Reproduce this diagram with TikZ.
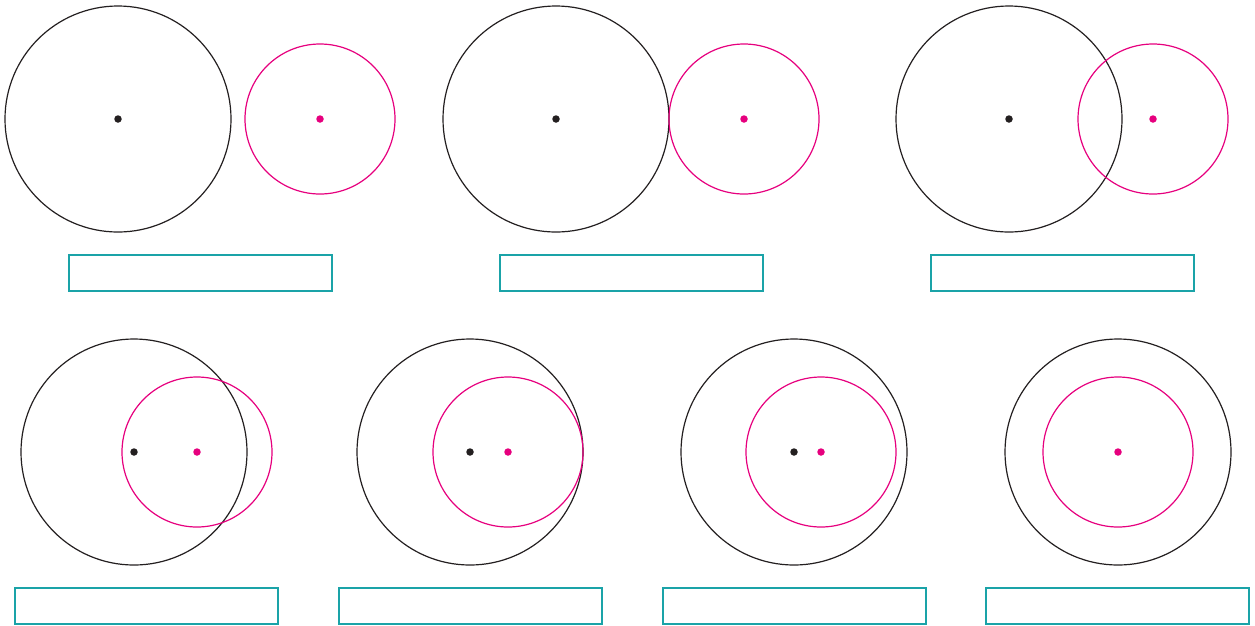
\documentclass[tikz,border=0pt]{standalone}
\definecolor{mag}{HTML}{E6007E}
\definecolor{teal2}{HTML}{1AA3A8}
\definecolor{ink}{HTML}{231F20}
\begin{document}
\begin{tikzpicture}[x=1pt,y=-1pt,
  bigc/.style={draw=ink,line width=1.2pt,circle,minimum size=226pt,inner sep=0pt},
  smallc/.style={draw=mag,line width=1.2pt,circle,minimum size=150pt,inner sep=0pt},
  bdot/.style={fill=ink,circle,minimum size=7.5pt,inner sep=0pt},
  mdot/.style={fill=mag,circle,minimum size=7.5pt,inner sep=0pt},
  labelbox/.style={draw=teal2,line width=1.4pt,minimum width=263pt,minimum height=36pt,inner sep=0pt}]
\useasboundingbox (0,0) rectangle (1255,625);
% top row
\node[bigc] (b1) at (118,119) {};
\node[bdot] (bd1) at (118,119) {};
\node[smallc] (s1) at (320,119) {};
\node[mdot] (md1) at (320,119) {};
\node[labelbox] (l1) at (200.5,273) {};
\node[bigc] (b2) at (556,119) {};
\node[bdot] (bd2) at (556,119) {};
\node[smallc] (s2) at (744,119) {};
\node[mdot] (md2) at (744,119) {};
\node[labelbox] (l2) at (631.5,273) {};
\node[bigc] (b3) at (1009,119) {};
\node[bdot] (bd3) at (1009,119) {};
\node[smallc] (s3) at (1153,119) {};
\node[mdot] (md3) at (1153,119) {};
\node[labelbox] (l3) at (1062.5,273) {};
% bottom row
\node[bigc] (b4) at (134,452) {};
\node[bdot] (bd4) at (134,452) {};
\node[smallc] (s4) at (197,452) {};
\node[mdot] (md4) at (197,452) {};
\node[labelbox] (l4) at (146.5,606) {};
\node[bigc] (b5) at (470,452) {};
\node[bdot] (bd5) at (470,452) {};
\node[smallc] (s5) at (508,452) {};
\node[mdot] (md5) at (508,452) {};
\node[labelbox] (l5) at (470.5,606) {};
\node[bigc] (b6) at (794,452) {};
\node[bdot] (bd6) at (794,452) {};
\node[smallc] (s6) at (821,452) {};
\node[mdot] (md6) at (821,452) {};
\node[labelbox] (l6) at (794.5,606) {};
\node[bigc] (b7) at (1118,452) {};
\node[smallc] (s7) at (1118,452) {};
\node[mdot] (md7) at (1118,452) {};
\node[labelbox] (l7) at (1117.5,606) {};
\end{tikzpicture}
\end{document}
